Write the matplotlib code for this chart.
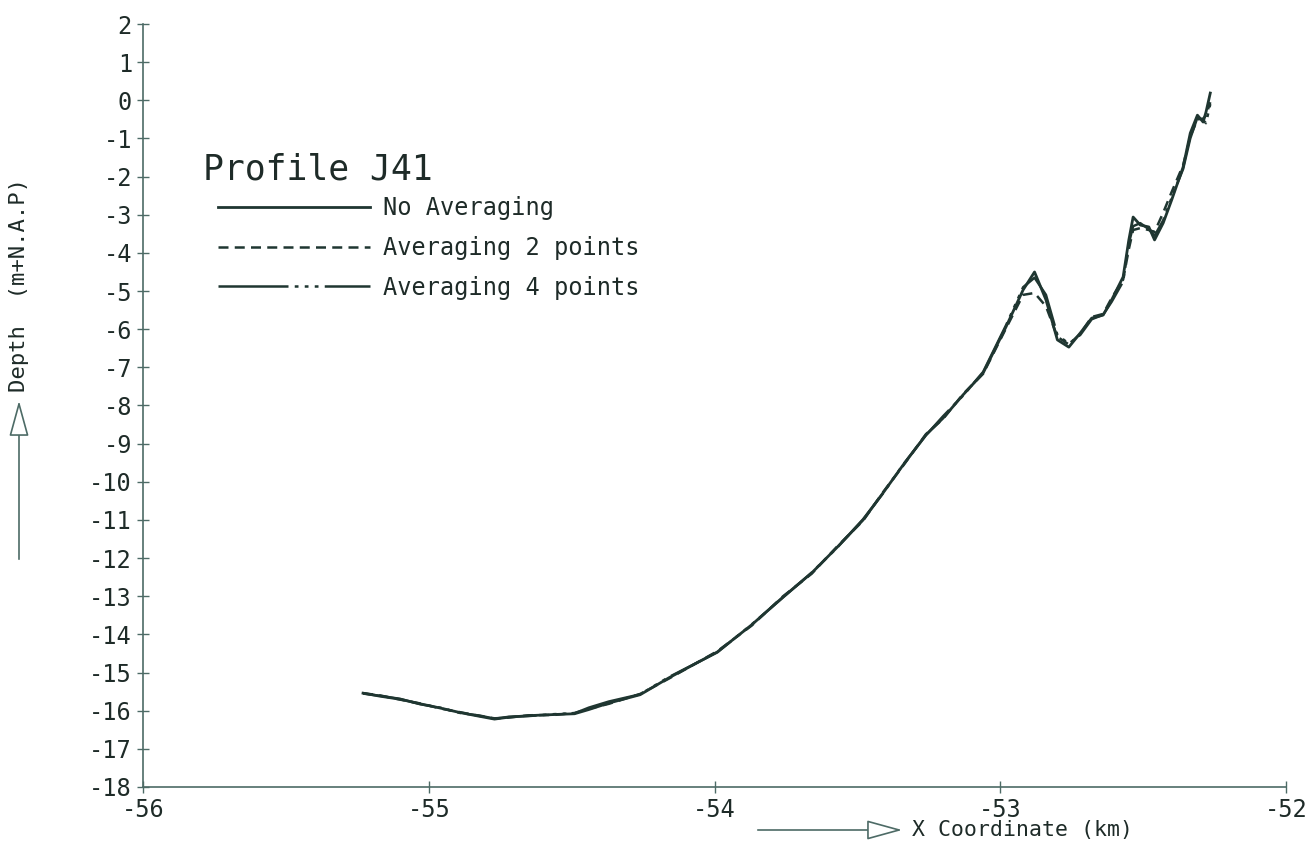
import matplotlib
matplotlib.use("Agg")
import numpy as np
from matplotlib import pyplot as plt

# profile J41 (x in km, depth in m+N.A.P)
x_km = [-55.23, -55.17, -55.10, -55.03, -54.96, -54.89, -54.82, -54.77,
        -54.72, -54.65, -54.56, -54.49, -54.44, -54.37, -54.26, -54.16,
        -53.99, -53.87, -53.76, -53.66, -53.57, -53.48, -53.41, -53.34,
        -53.26, -53.20, -53.13, -53.06, -52.98, -52.92, -52.88, -52.84,
        -52.80, -52.76, -52.72, -52.68, -52.64, -52.61, -52.57, -52.55,
        -52.535, -52.51, -52.48, -52.46, -52.43, -52.40, -52.36, -52.335,
        -52.31, -52.29, -52.28, -52.265]

depth_raw = [-15.54, -15.62, -15.70, -15.82, -15.93, -16.05, -16.15, -16.22,
             -16.17, -16.13, -16.10, -16.08, -15.97, -15.80, -15.58, -15.14,
             -14.46, -13.75, -13.02, -12.39, -11.71, -11.00, -10.29, -9.56,
             -8.77, -8.33, -7.72, -7.15, -5.94, -4.97, -4.50, -5.23,
             -6.28, -6.47, -6.10, -5.71, -5.63, -5.23, -4.63, -3.66,
             -3.06, -3.27, -3.32, -3.66, -3.22, -2.61, -1.75, -0.86,
             -0.39, -0.57, -0.31, 0.19]

depth_avg2 = [-15.54, -15.60, -15.71, -15.81, -15.94, -16.04, -16.14, -16.20,
              -16.18, -16.12, -16.11, -16.06, -15.95, -15.82, -15.56, -15.16,
              -14.44, -13.77, -13.00, -12.41, -11.69, -11.02, -10.27, -9.58,
              -8.75, -8.35, -7.70, -7.17, -5.98, -5.10, -5.05, -5.40,
              -6.20, -6.40, -6.12, -5.68, -5.60, -5.18, -4.70, -3.90,
              -3.40, -3.35, -3.40, -3.45, -2.95, -2.40, -1.70, -0.95,
              -0.50, -0.48, -0.40, -0.05]

depth_avg4 = [-15.55, -15.61, -15.69, -15.83, -15.92, -16.06, -16.13, -16.21,
              -16.16, -16.14, -16.09, -16.07, -15.92, -15.76, -15.57, -15.12,
              -14.47, -13.74, -13.03, -12.38, -11.72, -10.98, -10.30, -9.55,
              -8.78, -8.28, -7.74, -7.12, -5.90, -4.90, -4.65, -5.10,
              -6.15, -6.38, -6.15, -5.74, -5.62, -5.28, -4.75, -3.75,
              -3.30, -3.22, -3.38, -3.55, -3.15, -2.55, -1.80, -1.00,
              -0.45, -0.52, -0.60, -0.10]

labels = ["No Averaging", "Averaging 2 points", "Averaging 4 points"]
x_ticks = [-56, -55, -54, -53, -52]
y_ticks = list(range(2, -19, -1))

line_col = "#1f3631"
axis_col = "#4d6b66"
text_col = "#1e2b28"
font = "DejaVu Sans Mono"

W, H = 1308, 848
fig = plt.figure(figsize=(W / 100, H / 100), dpi=100)
ax = fig.add_axes([143 / W, (H - 787) / H, (1286 - 143) / W, (787 - 24) / H])

ax.plot(x_km, depth_raw, color=line_col, lw=2.0, label=labels[0])
ax.plot(x_km, depth_avg2, color=line_col, lw=1.8, linestyle=(0, (4, 2.5)),
        label=labels[1])
ax.plot(x_km, depth_avg4, color=line_col, lw=1.8,
        linestyle=(0, (28, 2.5, 1.5, 2.5, 1.5, 2.5, 1.5, 2.5)),
        label=labels[2])

ax.set_xlim(-56, -52)
ax.set_ylim(-18, 2)
ax.set_xticks(x_ticks)
ax.set_xticklabels([str(v) for v in x_ticks])
ax.set_yticks(y_ticks)
ax.set_yticklabels([str(v) for v in y_ticks])

for s in ["top", "right"]:
    ax.spines[s].set_visible(False)
for s in ["left", "bottom"]:
    ax.spines[s].set_color(axis_col)
    ax.spines[s].set_linewidth(1.2)
ax.tick_params(direction="inout", length=8, width=1, color=axis_col,
               labelcolor=text_col, labelsize=17, pad=4)
for t in ax.get_xticklabels() + ax.get_yticklabels():
    t.set_family(font)

# legend: title as separate text, entries below it
fig.text(203 / W, (H - 170) / H, "Profile J41", ha="left", va="center",
         family=font, fontsize=25, color=text_col)
leg = ax.legend(loc="upper left", bbox_to_anchor=(218 / W, (H - 196) / H),
                bbox_transform=fig.transFigure, frameon=False,
                prop={"family": font, "size": 17},
                handlelength=6.45, handletextpad=0.55, labelspacing=0.67,
                borderpad=0, borderaxespad=0)
for t in leg.get_texts():
    t.set_color(text_col)

# axis titles with the plotter-style open arrows
arrow = dict(arrowstyle="-|>,head_length=0.8,head_width=0.22", fc="white",
             ec=axis_col, lw=1.2, mutation_scale=28)
ax.annotate("", xy=(19, H - 398), xytext=(19, H - 562),
            xycoords="figure pixels", textcoords="figure pixels",
            arrowprops=arrow)
fig.text(19 / W, (H - 285) / H, "Depth  (m+N.A.P)", rotation=90,
         ha="center", va="center", family=font, fontsize=16, color=text_col)
ax.annotate("", xy=(905, H - 830), xytext=(755, H - 830),
            xycoords="figure pixels", textcoords="figure pixels",
            arrowprops=arrow)
fig.text(912 / W, (H - 830) / H, "X Coordinate (km)", ha="left",
         va="center", family=font, fontsize=15.5, color=text_col)

fig.savefig("out.png", dpi=100)
